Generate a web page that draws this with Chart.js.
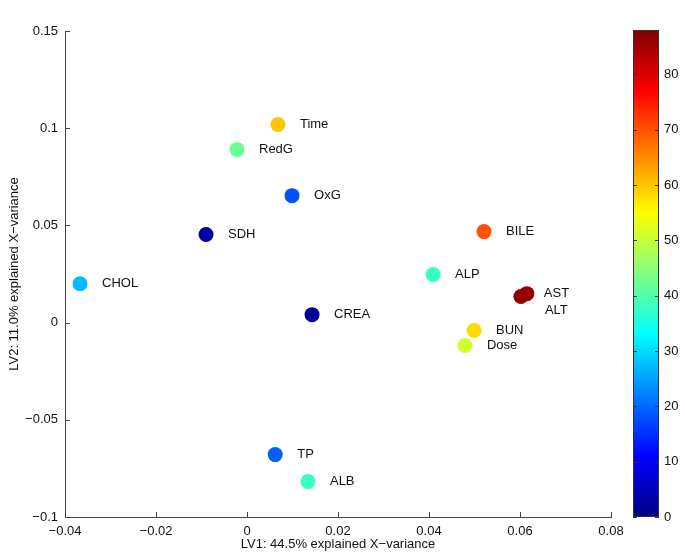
<!DOCTYPE html>
<html>
<head>
<meta charset="utf-8">
<script src="https://cdn.jsdelivr.net/npm/chart.js@4"></script>
<style>
  body { margin: 0; background: #fff; }
  #wrap { position: relative; width: 685px; height: 556px; }
  #main { position: absolute; left: 0; top: 0; }
  #bar { position: absolute; left: 600px; top: 0; }
</style>
</head>
<body>
<div id="wrap">
  <canvas id="main" width="685" height="556"></canvas>
  <canvas id="bar" width="85" height="556"></canvas>
</div>
<script>
// loadings on LV1 / LV2, colour = value on the colour bar
var names = ['Time', 'RedG', 'OxG', 'SDH', 'CHOL', 'CREA', 'ALP', 'BILE', 'ALT', 'AST', 'BUN', 'Dose', 'TP', 'ALB'];
var lv1 = [0.0068, -0.0022, 0.0099, -0.0090, -0.0367, 0.0143, 0.0409, 0.0521, 0.0602, 0.0615, 0.0499, 0.0479, 0.0062, 0.0134];
var lv2 = [0.1019, 0.0890, 0.0653, 0.0453, 0.0200, 0.0041, 0.0247, 0.0468, 0.0134, 0.0149, -0.0041, -0.0118, -0.0679, -0.0818];
var colorValue = [60, 42, 18, 3, 27, 2, 38, 70, 87, 86, 58, 51, 19, 38];

var xTicks = [-0.04, -0.02, 0, 0.02, 0.04, 0.06, 0.08];
var yTicks = [-0.1, -0.05, 0, 0.05, 0.1, 0.15];
var cbTicks = [0, 10, 20, 30, 40, 50, 60, 70, 80];
var cbMin = 0, cbMax = 88;

var FONT = '"Liberation Sans", Arial, sans-serif';

function jet(t) {
  function c(x) { return Math.round(255 * Math.max(0, Math.min(1, x))); }
  return 'rgb(' + c(1.5 - Math.abs(4 * t - 3)) + ',' + c(1.5 - Math.abs(4 * t - 2)) + ',' + c(1.5 - Math.abs(4 * t - 1)) + ')';
}

function fmt(v) {
  var s = String(parseFloat(v.toFixed(4)));
  return s.replace('-', '\u2212');
}

// label placement (pixels from point centre)
var labelOffset = { AST: [17, 0], ALT: [24, 14] };

var pointLabels = {
  id: 'pointLabels',
  afterDatasetsDraw: function (chart) {
    var ctx = chart.ctx;
    var meta = chart.getDatasetMeta(0);
    ctx.save();
    ctx.font = '13px ' + FONT;
    ctx.fillStyle = '#111';
    ctx.textBaseline = 'middle';
    meta.data.forEach(function (pt, i) {
      var off = labelOffset[names[i]] || [22, 0];
      ctx.fillText(names[i], pt.x + off[0], pt.y + off[1]);
    });
    ctx.restore();
  }
};

// matlab style ticks pointing inward
var innerTicks = {
  id: 'innerTicks',
  afterDraw: function (chart) {
    var ctx = chart.ctx;
    var x = chart.scales.x, y = chart.scales.y;
    ctx.save();
    ctx.strokeStyle = '#444';
    ctx.lineWidth = 1;
    ctx.beginPath();
    x.ticks.forEach(function (t) {
      var px = Math.round(x.getPixelForValue(t.value)) + 0.5;
      ctx.moveTo(px, y.bottom);
      ctx.lineTo(px, y.bottom - 5);
    });
    y.ticks.forEach(function (t) {
      var py = Math.round(y.getPixelForValue(t.value)) + 0.5;
      ctx.moveTo(x.left, py);
      ctx.lineTo(x.left + 5, py);
    });
    ctx.stroke();
    ctx.restore();
  }
};

new Chart(document.getElementById('main'), {
  type: 'scatter',
  data: {
    datasets: [{
      data: lv1.map(function (v, i) { return { x: v, y: lv2[i] }; }),
      pointRadius: 7.5,
      pointHoverRadius: 7.5,
      pointBorderWidth: 0,
      pointBackgroundColor: colorValue.map(function (v) { return jet((v - cbMin) / (cbMax - cbMin)); })
    }]
  },
  options: {
    responsive: false,
    animation: false,
    events: [],
    layout: { padding: { left: 7, top: 31, right: 74, bottom: 4 } },
    plugins: { legend: { display: false }, tooltip: { enabled: false } },
    scales: {
      x: {
        type: 'linear', min: -0.04, max: 0.08,
        afterBuildTicks: function (s) { s.ticks = xTicks.map(function (v) { return { value: v }; }); },
        afterFit: function (s) { s.height = 35; },
        grid: { display: false, drawTicks: false },
        border: { display: true, color: '#444', width: 1 },
        ticks: { padding: 7, color: '#111', font: { family: FONT, size: 13 }, callback: fmt, maxRotation: 0 },
        title: { display: true, text: 'LV1: 44.5% explained X\u2212variance', color: '#111', font: { family: FONT, size: 13 }, padding: 0 }
      },
      y: {
        type: 'linear', min: -0.1, max: 0.15,
        afterBuildTicks: function (s) { s.ticks = yTicks.map(function (v) { return { value: v }; }); },
        afterFit: function (s) { s.width = 58; },
        grid: { display: false, drawTicks: false },
        border: { display: true, color: '#444', width: 1 },
        ticks: { padding: 7, color: '#111', font: { family: FONT, size: 13 }, callback: fmt },
        title: { display: true, text: 'LV2: 11.0% explained X\u2212variance', color: '#111', font: { family: FONT, size: 13 }, padding: 0 }
      }
    }
  },
  plugins: [pointLabels, innerTicks]
});

// colour bar
var cbTicksPlugin = {
  id: 'cbTicks',
  afterDraw: function (chart) {
    var ctx = chart.ctx, y = chart.scales.y, a = chart.chartArea;
    ctx.save();
    ctx.strokeStyle = '#333';
    ctx.lineWidth = 1;
    ctx.beginPath();
    y.ticks.forEach(function (t) {
      var py = Math.round(y.getPixelForValue(t.value)) + 0.5;
      ctx.moveTo(a.left, py); ctx.lineTo(a.left + 4, py);
      ctx.moveTo(a.right, py); ctx.lineTo(a.right - 4, py);
    });
    ctx.stroke();
    ctx.strokeRect(a.left + 0.5, a.top + 0.5, a.right - a.left - 1, a.bottom - a.top - 1);
    ctx.restore();
  }
};

new Chart(document.getElementById('bar'), {
  type: 'bar',
  data: {
    labels: [''],
    datasets: [{
      data: [[cbMin, cbMax]],
      barPercentage: 1,
      categoryPercentage: 1,
      borderWidth: 0,
      backgroundColor: function (c) {
        var a = c.chart.chartArea;
        if (!a) return '#888';
        var g = c.chart.ctx.createLinearGradient(0, a.bottom, 0, a.top);
        for (var i = 0; i <= 64; i++) g.addColorStop(i / 64, jet(i / 64));
        return g;
      }
    }]
  },
  options: {
    responsive: false,
    animation: false,
    events: [],
    layout: { padding: { left: 33, top: 30, right: 0, bottom: 39 } },
    plugins: { legend: { display: false }, tooltip: { enabled: false } },
    scales: {
      x: { display: false },
      y: {
        position: 'right', min: cbMin, max: cbMax,
        afterBuildTicks: function (s) { s.ticks = cbTicks.map(function (v) { return { value: v }; }); },
        afterFit: function (s) { s.width = 26; },
        grid: { display: false, drawTicks: false },
        border: { display: false },
        ticks: { padding: 5, color: '#111', font: { family: FONT, size: 13 } }
      }
    }
  },
  plugins: [cbTicksPlugin]
});
</script>
</body>
</html>
